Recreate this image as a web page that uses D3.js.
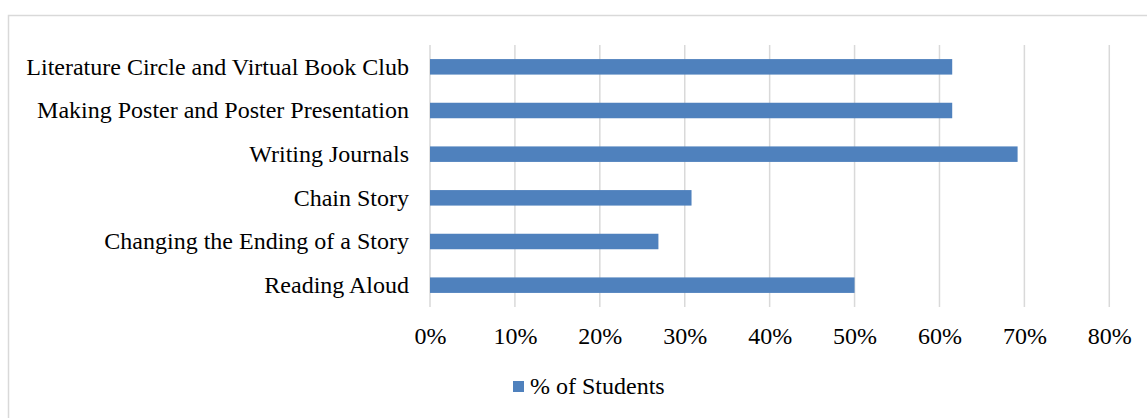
<!DOCTYPE html>
<html><head><meta charset="utf-8">
<script src="https://cdn.jsdelivr.net/npm/d3@7"></script>
<style>body{margin:0;background:#fff}svg{display:block}</style>
</head><body>
<script>
const categories = ["Literature Circle and Virtual Book Club","Making Poster and Poster Presentation","Writing Journals","Chain Story","Changing the Ending of a Story","Reading Aloud"];
const values = [61.5, 61.5, 69.2, 30.8, 26.9, 50.0];
const ticks = [0,10,20,30,40,50,60,70,80];
const seriesName = "% of Students";

const W=1147,H=418;
const svg=d3.select("body").append("svg").attr("width",W).attr("height",H);
svg.append("rect").attr("x",8.5).attr("y",15.5).attr("width",W+10).attr("height",H+10)
  .attr("fill","#fff").attr("stroke","#d9d9d9").attr("stroke-width",1.5);

const x=d3.scaleLinear().domain([0,80]).range([430,1109.3]);
const y=d3.scaleBand().domain(categories).range([45,307]).paddingInner(0.645).paddingOuter(0.3225);
const font="Liberation Serif, Times New Roman, serif";
const fs=24;

svg.append("g").selectAll("line").data(ticks).join("line")
  .attr("x1",d=>x(d)).attr("x2",d=>x(d)).attr("y1",45).attr("y2",307)
  .attr("stroke","#d9d9d9").attr("stroke-width",1.5);

svg.append("g").selectAll("rect").data(values).join("rect")
  .attr("x",x(0)).attr("y",(d,i)=>y(categories[i]))
  .attr("width",d=>x(d)-x(0)).attr("height",y.bandwidth())
  .attr("fill","#4f81bd");

const xa=d3.axisBottom(x).tickValues(ticks).tickFormat(d=>d+"%").tickSize(0).tickPadding(0);
const gx=svg.append("g").attr("transform","translate(0,336)").call(xa);
gx.select(".domain").remove();
gx.selectAll("text").attr("font-family",font).attr("font-size",fs).attr("fill","#000").attr("dy","0.35em");

const ya=d3.axisLeft(y).tickSize(0).tickPadding(21);
const gy=svg.append("g").attr("transform",`translate(${x(0)},0)`).call(ya);
gy.select(".domain").remove();
gy.selectAll("text").attr("font-family",font).attr("font-size",fs).attr("fill","#000");

const lg=svg.append("g");
lg.append("rect").attr("x",513).attr("y",381).attr("width",11).attr("height",11).attr("fill","#4f81bd");
lg.append("text").attr("x",530).attr("y",386).attr("dy","0.35em").attr("font-family",font).attr("font-size",fs).text(seriesName);
</script>
</body></html>
